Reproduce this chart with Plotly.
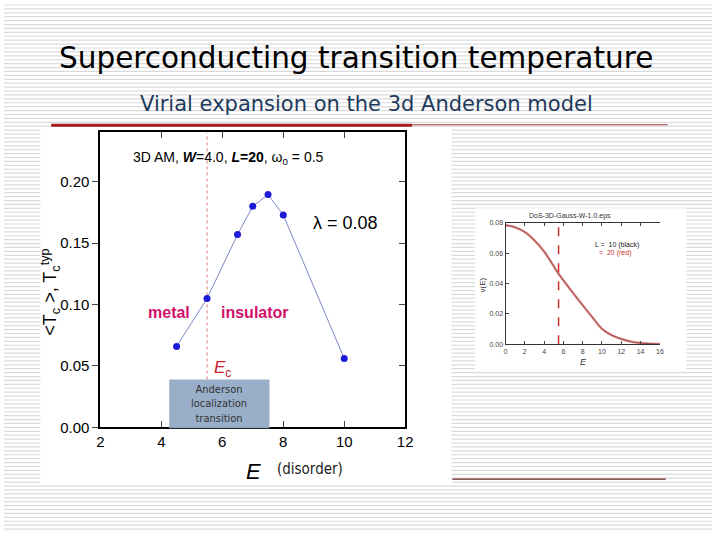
import plotly.graph_objects as go

# ---- main chart data ----
disorder_E = [4.5, 5.5, 6.5, 7.0, 7.5, 8.0, 10.0]
tc_values = [0.0658, 0.105, 0.157, 0.180, 0.1895, 0.173, 0.056]
E_c = 5.5
x_ticks = [2, 4, 6, 8, 10, 12]
y_ticks = [0.00, 0.05, 0.10, 0.15, 0.20]
y_tick_labels = ["0.00", "0.05", "0.10", "0.15", "0.20"]

# ---- inset (density of states) data ----
dos_E = [0, 1, 2, 3, 4, 5, 5.5, 6, 7, 8, 9, 10, 11, 12, 13, 14, 15, 16]
dos_nu = [0.0785, 0.0772, 0.0740, 0.0685, 0.0612, 0.0515, 0.0465, 0.0422,
          0.0338, 0.0257, 0.0178, 0.0102, 0.0060, 0.0035, 0.0017, 0.0008,
          0.0004, 0.0002]
inset_x_ticks = [0, 2, 4, 6, 8, 10, 12, 14, 16]
inset_y_ticks = [0.00, 0.02, 0.04, 0.06, 0.08]
inset_y_labels = ["0.00", "0.02", "0.04", "0.06", "0.08"]

W, H = 720, 540


def px(x):
    return x / W


def py(y):
    return 1 - y / H


fig = go.Figure()

# main data line
fig.add_trace(go.Scatter(
    x=[E_c, E_c], y=[0, 0.24], mode="lines",
    line=dict(color="#e07878", width=1, dash="dot"),
    xaxis="x", yaxis="y", showlegend=False, hoverinfo="skip"))
fig.add_trace(go.Scatter(
    x=disorder_E, y=tc_values, mode="lines+markers",
    line=dict(color="#5a6ab8", width=0.8),
    marker=dict(color="#1a1ad8", size=7),
    xaxis="x", yaxis="y", showlegend=False))

# inset traces
fig.add_trace(go.Scatter(
    x=[E_c, E_c], y=[0, 0.08], mode="lines",
    line=dict(color="#c83030", width=1.5, dash="dash"),
    xaxis="x2", yaxis="y2", showlegend=False, hoverinfo="skip"))
fig.add_trace(go.Scatter(
    x=dos_E, y=dos_nu, mode="lines", line_shape="spline",
    line=dict(color="rgba(205,70,70,0.65)", width=2.4),
    xaxis="x2", yaxis="y2", showlegend=False))
fig.add_trace(go.Scatter(
    x=dos_E, y=dos_nu, mode="lines", line_shape="spline",
    line=dict(color="rgba(90,20,20,0.6)", width=0.8),
    xaxis="x2", yaxis="y2", showlegend=False))

shapes = []
# striped slide background
for yy in range(1, H, 4):
    shapes.append(dict(type="line", xref="paper", yref="paper",
                       x0=0, x1=1, y0=py(yy), y1=py(yy),
                       line=dict(color="#dadada", width=1.2), layer="below"))
# white panels
shapes.append(dict(type="rect", xref="paper", yref="paper",
                   x0=px(37), x1=px(455), y0=py(490), y1=py(127),
                   fillcolor="white", line=dict(width=0), layer="below"))
shapes.append(dict(type="rect", xref="paper", yref="paper",
                   x0=px(479), x1=px(694), y0=py(376), y1=py(209),
                   fillcolor="white", line=dict(width=0), layer="below"))
# red rules
shapes.append(dict(type="line", xref="paper", yref="paper",
                   x0=px(48), x1=px(415), y0=py(124), y1=py(124),
                   line=dict(color="#a51c1c", width=3), layer="below"))
shapes.append(dict(type="line", xref="paper", yref="paper",
                   x0=px(415), x1=px(675), y0=py(123.5), y1=py(123.5),
                   line=dict(color="#a83a3a", width=1), layer="below"))
shapes.append(dict(type="line", xref="paper", yref="paper",
                   x0=px(456), x1=px(673), y0=py(486), y1=py(486),
                   line=dict(color="#6a2424", width=1.3), layer="below"))
# Anderson transition box
shapes.append(dict(type="rect", xref="paper", yref="paper",
                   x0=px(168), x1=px(270), y0=py(434), y1=py(384),
                   fillcolor="#93abc6", opacity=0.95,
                   line=dict(width=0), layer="above"))

annotations = [
    dict(text="Superconducting transition temperature", x=px(358), y=py(55),
         font=dict(family="DejaVu Sans", size=29.5, color="black")),
    dict(text="Virial expansion on the 3d Anderson model", x=px(369), y=py(102),
         font=dict(family="DejaVu Sans", size=21, color="#1d3a5c")),
    dict(text="3D AM, <b><i>W</i></b>=4.0, <b><i>L</i>=20</b>, ω<sub>0</sub> = 0.5",
         x=px(228), y=py(157),
         font=dict(family="Liberation Sans", size=14, color="black")),
    dict(text="λ = 0.08", x=px(347), y=py(224),
         font=dict(family="Liberation Sans", size=18, color="black")),
    dict(text="<b>metal</b>", x=px(168), y=py(315),
         font=dict(family="Liberation Sans", size=16, color="#d0106a")),
    dict(text="<b>insulator</b>", x=px(255), y=py(315),
         font=dict(family="Liberation Sans", size=16, color="#d0106a")),
    dict(text="<i>E</i><sub>c</sub>", x=px(222), y=py(373),
         font=dict(family="Liberation Sans", size=17, color="#c8202a")),
    dict(text="Anderson<br>localization<br>transition", x=px(219), y=py(409),
         font=dict(family="DejaVu Sans Condensed, Liberation Sans Narrow, DejaVu Sans",
                   size=11, color="#333333")),
    dict(text="&lt;T<sub>c</sub> &gt;, T<sub>c</sub><sup>typ</sup>", x=px(47), y=py(295),
         textangle=-90,
         font=dict(family="Liberation Sans", size=18, color="black")),
    dict(text="<i>E</i>", x=px(254), y=py(478),
         font=dict(family="Liberation Sans", size=22, color="black")),
    dict(text="(disorder)", x=px(311), y=py(476),
         font=dict(family="DejaVu Sans Condensed, Liberation Sans Narrow, DejaVu Sans",
                   size=15, color="#222222")),
    # inset texts
    dict(text="DoS-3D-Gauss-W-1.0.eps", x=px(576), y=py(217),
         font=dict(family="Liberation Sans", size=7, color="#333333")),
    dict(text="L =  10 (black)", x=px(599), y=py(246), xanchor="left",
         font=dict(family="Liberation Sans", size=7, color="#222222")),
    dict(text="=  20 (red)", x=px(603), y=py(255), xanchor="left",
         font=dict(family="Liberation Sans", size=7, color="#d03030")),
    dict(text="ν(E)", x=px(487), y=py(287), textangle=-90,
         font=dict(family="Liberation Sans", size=8, color="#333333")),
    dict(text="<i>E</i>", x=px(589), y=py(366),
         font=dict(family="Liberation Sans", size=9, color="#333333")),
]
for a in annotations:
    a.setdefault("xref", "paper")
    a.setdefault("yref", "paper")
    a.setdefault("xanchor", "center")
    a.setdefault("yanchor", "middle")
    a.setdefault("showarrow", False)

axis_font = dict(family="Liberation Sans", size=15, color="black")
inset_font = dict(family="Liberation Sans", size=7, color="#444444")

fig.update_layout(
    width=W, height=H,
    margin=dict(l=0, r=0, t=0, b=0),
    paper_bgcolor="white", plot_bgcolor="white",
    shapes=shapes, annotations=annotations,
    xaxis=dict(domain=[px(98), px(408)], range=[2, 12],
               tickvals=x_ticks, ticks="inside", ticklen=6, tickwidth=1.3,
               showline=True, linecolor="black", linewidth=1.8, mirror="ticks",
               showgrid=False, zeroline=False, tickfont=axis_font,
               anchor="y"),
    yaxis=dict(domain=[py(433), py(131)], range=[0, 0.2404],
               tickvals=y_ticks, ticktext=y_tick_labels,
               ticks="outside", ticklen=6, tickwidth=1.3,
               showline=True, linecolor="black", linewidth=1.8, mirror=True,
               showgrid=False, zeroline=False, tickfont=axis_font,
               anchor="x"),
    yaxis3=dict(overlaying="y", side="right", range=[0, 0.2404],
                tickvals=y_ticks, showticklabels=False,
                ticks="inside", ticklen=6, tickwidth=1.3,
                showline=False, showgrid=False, zeroline=False, anchor="x"),
    xaxis2=dict(domain=[px(510), px(667)], range=[0, 16],
                tickvals=inset_x_ticks, ticks="inside", ticklen=3, tickwidth=0.8,
                showline=True, linecolor="#333333", linewidth=1, mirror="ticks",
                showgrid=False, zeroline=False, tickfont=inset_font,
                anchor="y2"),
    yaxis2=dict(domain=[py(348), py(224)], range=[0, 0.08],
                tickvals=inset_y_ticks, ticktext=inset_y_labels,
                ticks="inside", ticklen=3, tickwidth=0.8,
                showline=True, linecolor="#333333", linewidth=1,
                showgrid=False, zeroline=False, tickfont=inset_font,
                anchor="x2"),
)
# invisible trace so the right-side tick axis is drawn
fig.add_trace(go.Scatter(x=[2], y=[0], xaxis="x", yaxis="y3", mode="markers",
                         marker=dict(opacity=0), showlegend=False, hoverinfo="skip"))

post = "document.body.style.margin='0';"
fig.write_html("out.html", config={"displayModeBar": False}, post_script=post)
